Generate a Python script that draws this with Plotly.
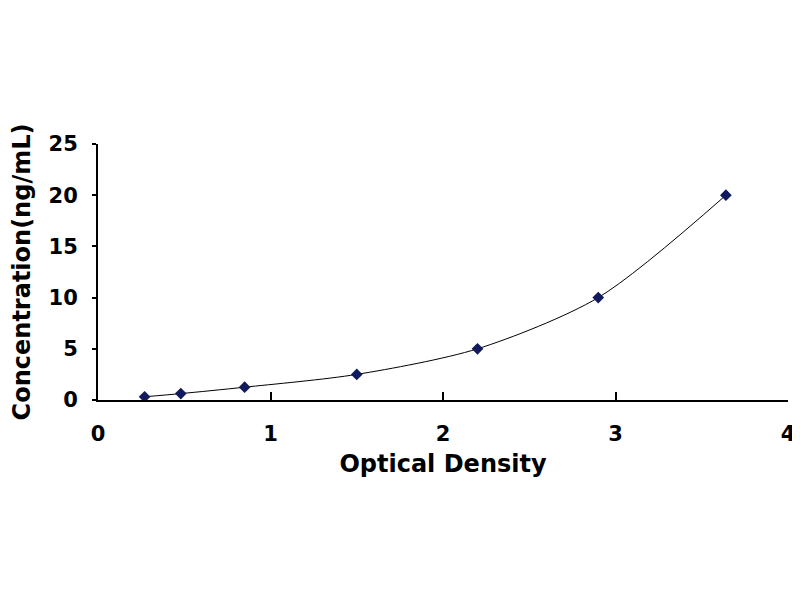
import plotly.graph_objects as go

# standard curve points
optical_density = [0.27, 0.48, 0.85, 1.50, 2.20, 2.90, 3.64]
concentration = [0.313, 0.625, 1.25, 2.5, 5, 10, 20]

x_ticks = [0, 1, 2, 3, 4]
y_ticks = [0, 5, 10, 15, 20, 25]

fuente = "DejaVu Sans, Arial, sans-serif"

figura = go.Figure()

figura.add_trace(
    go.Scatter(
        x=optical_density,
        y=concentration,
        mode="lines+markers",
        line=dict(color="black", width=1, shape="spline", smoothing=0.8),
        marker=dict(symbol="diamond", size=9, color="#101a5c"),
        showlegend=False,
        hovertemplate="OD: %{x}<br>Conc: %{y} ng/mL<extra></extra>"
    )
)

# the page body adds ~7px offset, margins compensate for it
figura.update_layout(
    width=800,
    height=600,
    paper_bgcolor="white",
    plot_bgcolor="white",
    margin=dict(l=90, r=20, t=136, b=208),
    font=dict(family=fuente, color="black"),
    xaxis=dict(
        range=[0, 4],
        tickvals=x_ticks,
        ticks="inside",
        ticklen=8,
        tickwidth=2,
        tickcolor="black",
        showline=True,
        linecolor="black",
        linewidth=2,
        showgrid=False,
        zeroline=False,
        automargin=False,
        ticklabelstandoff=14,
        tickfont=dict(size=21, weight="bold"),
        title=dict(
            text="Optical Density",
            font=dict(size=24, weight="bold"),
            standoff=10
        )
    ),
    yaxis=dict(
        range=[0, 25],
        tickvals=y_ticks,
        ticks="outside",
        ticklen=4,
        tickwidth=2,
        tickcolor="black",
        showline=True,
        linecolor="black",
        linewidth=2,
        showgrid=False,
        zeroline=False,
        automargin=False,
        ticklabelstandoff=10,
        tickfont=dict(size=21, weight="bold"),
        title=dict(
            text="Concentration(ng/mL)",
            font=dict(size=24, weight="bold"),
            standoff=31
        )
    )
)

figura.write_html("out.html")
